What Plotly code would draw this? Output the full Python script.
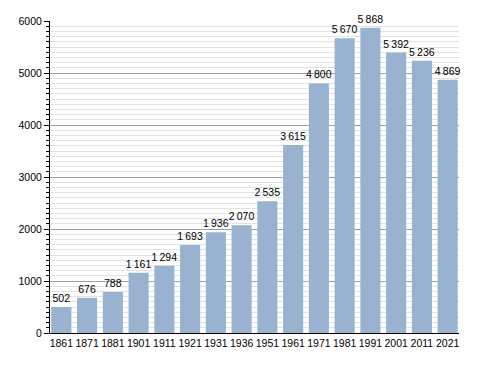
import plotly.graph_objects as go

years = ["1861", "1871", "1881", "1901", "1911", "1921", "1931", "1936",
         "1951", "1961", "1971", "1981", "1991", "2001", "2011", "2021"]
population = [502, 676, 788, 1161, 1294, 1693, 1936, 2070,
              2535, 3615, 4800, 5670, 5868, 5392, 5236, 4869]
y_ticks = [0, 1000, 2000, 3000, 4000, 5000, 6000]

labels = ["{:,}".format(v).replace(",", "\u2009") for v in population]

FONT = "Liberation Sans, Arial, sans-serif"

fig = go.Figure()
fig.add_trace(go.Bar(
    x=list(range(len(years))), y=population,
    text=labels, textposition="outside", cliponaxis=False,
    constraintext="none",
    textfont=dict(family=FONT, size=10.5, color="#000"),
    marker=dict(color="#98b2d0", line=dict(width=0)),
    hoverinfo="skip",
))

fig.update_layout(
    width=488, height=373,
    margin=dict(l=50, r=29, t=21, b=40, autoexpand=False),
    paper_bgcolor="white", plot_bgcolor="white",
    bargap=0.22, showlegend=False,
    font=dict(family=FONT, size=10.5, color="#000"),
)
fig.update_xaxes(
    tickmode="array", tickvals=list(range(len(years))), ticktext=years,
    range=[-0.44, len(years) - 0.56], tickangle=0, automargin=False,
    showline=True, linecolor="#000", linewidth=1,
    ticks="", showgrid=False, zeroline=False,
    tickfont=dict(size=10.5),
)
fig.update_yaxes(
    range=[0, 6000], tickmode="array", tickvals=y_ticks, automargin=False,
    showline=True, linecolor="#000", linewidth=1,
    ticks="outside", ticklen=5, tickcolor="#000",
    showgrid=True, gridcolor="#a0a0a0", gridwidth=1,
    zeroline=False, tickfont=dict(size=10.5),
    minor=dict(dtick=100, ticks="outside", ticklen=3, tickcolor="#000",
               showgrid=True, gridcolor="#e2e2e2", gridwidth=1),
)

fig.write_html("out.html", config={"displayModeBar": False},
               post_script="document.body.style.margin='0';document.body.style.overflow='hidden';")
